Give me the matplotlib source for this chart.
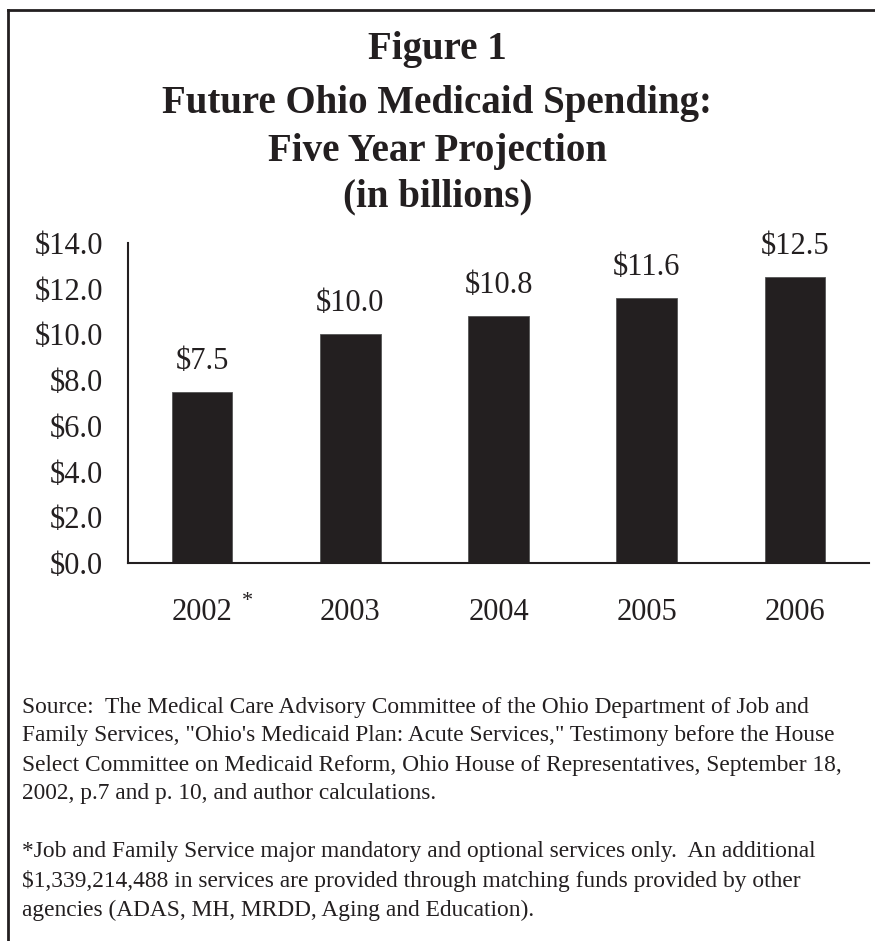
# Future Ohio Medicaid Spending - Figure 1

import matplotlib
matplotlib.use('Agg')
import matplotlib.pyplot as plt
from matplotlib.lines import Line2D

years = ['2002', '2003', '2004', '2005', '2006']
spending = [7.5, 10.0, 10.8, 11.6, 12.5] # billions of dollars
yticks = [0, 2, 4, 6, 8, 10, 12, 14]

title_lines = ['Figure 1', 'Future Ohio Medicaid Spending:', 'Five Year Projection', '(in billions)']
note_lines = [
    'Source:  The Medical Care Advisory Committee of the Ohio Department of Job and',
    'Family Services, "Ohio\'s Medicaid Plan: Acute Services," Testimony before the House',
    'Select Committee on Medicaid Reform, Ohio House of Representatives, September 18,',
    '2002, p.7 and p. 10, and author calculations.',
    '',
    '*Job and Family Service major mandatory and optional services only.  An additional',
    r'\$1,339,214,488 in services are provided through matching funds provided by other',
    'agencies (ADAS, MH, MRDD, Aging and Education).',
]

plt.rcParams['font.family'] = ['Liberation Serif', 'DejaVu Serif']
ink = '#231f20'
W, H = 875, 941

fig = plt.figure(figsize=(W/100, H/100), dpi=100)

# frame round the figure (left and top only)
fig.add_artist(Line2D([8/W, 8/W], [0, 1 - 10/H], color=ink, lw=2))
fig.add_artist(Line2D([8/W, 1], [1 - 10/H, 1 - 10/H], color=ink, lw=2))

# title, one line at a time
for line, ypix in zip(title_lines, [50, 103, 151, 197]):
    fig.text(0.5, 1 - ypix/H, line, ha='center', va='center', fontsize=28, fontweight='bold', color=ink)

ax = fig.add_axes([128/W, 1 - 563/H, (869-128)/W, (563-243)/H])
x = range(len(years))
ax.bar(x, spending, width=0.41, color=ink, edgecolor='#555555', linewidth=0.6)
for i, v in zip(x, spending):
    ax.annotate('\\$%.1f' % v, xy=(i, v), xytext=(0, 22), textcoords='offset points',
                ha='center', va='center', fontsize=22, color=ink)

ax.set_xlim(-0.5, len(years) - 0.5)
ax.set_ylim(0, 14)
ax.set_yticks(yticks)
ax.set_yticklabels(['\\$%.1f' % t for t in yticks])
ax.set_xticks(list(x))
ax.set_xticklabels(years)
ax.tick_params(axis='both', length=0, labelsize=22, colors=ink)
ax.tick_params(axis='y', pad=18)
ax.tick_params(axis='x', pad=25)
for s in ['top', 'right']:
    ax.spines[s].set_visible(False)
for s in ['left', 'bottom']:
    ax.spines[s].set_color(ink)
    ax.spines[s].set_linewidth(1.5)

# asterisk after 2002
ax.annotate('*', xy=(0, 0), xycoords=('data', 'axes fraction'), xytext=(33, -28),
            textcoords='offset points', ha='center', va='center', fontsize=16, color=ink)

# source notes
for k, line in enumerate(note_lines):
    fig.text(22/W, 1 - (707 + 29*k)/H, line, ha='left', va='center', fontsize=16.8, color=ink)

fig.savefig('out.png', dpi=100, facecolor='white')
